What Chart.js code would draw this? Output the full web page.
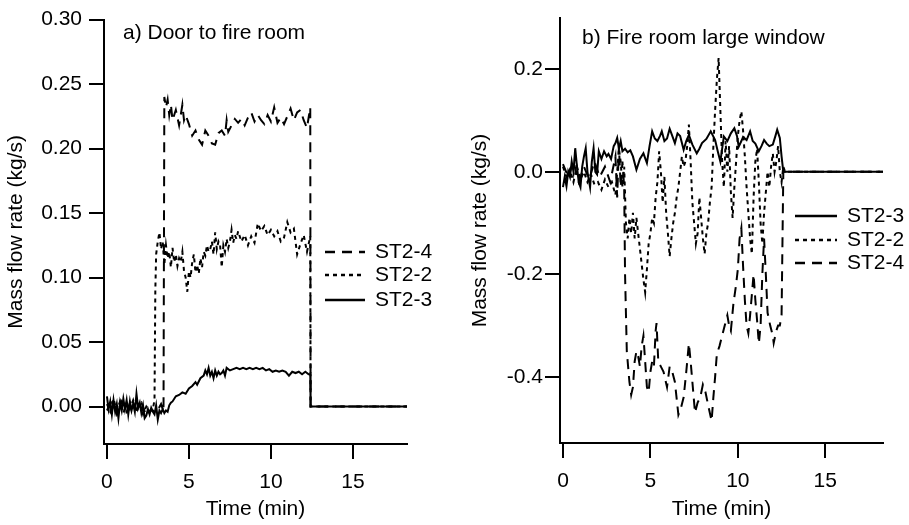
<!DOCTYPE html>
<html>
<head>
<meta charset="utf-8">
<script src="https://cdn.jsdelivr.net/npm/chart.js@4.4.1/dist/chart.umd.min.js"></script>
<style>
  body { margin: 0; background: #fff; width: 909px; height: 525px; position: relative; overflow: hidden; }
  canvas { position: absolute; top: 0; }
  #door-chart { left: 0; }
  #window-chart { left: 450px; }
</style>
</head>
<body>
<canvas id="door-chart" width="450" height="525"></canvas>
<canvas id="window-chart" width="459" height="525"></canvas>
<script>
// ---- data: a) Door to fire room ----
var doorTime3 = [0,0.1,0.2,0.3,0.4,0.5,0.6,0.7,0.8,0.9,
  1.0,1.1,1.2,1.3,1.4,1.5,1.6,1.7,1.8,1.9,
  2.0,2.1,2.2,2.3,2.4,2.5,2.6,2.7,2.8,2.9,
  3.0,3.1,3.2,3.3,3.4,3.5,3.6,3.7,3.8,3.9,
  4.0,4.2,4.4,4.6,4.8,5.0,5.2,5.4,5.5,5.7,5.9,
  6.0,6.1,6.2,6.3,6.4,6.5,6.6,6.7,6.8,6.9,7.0,7.1,7.2,7.3,
  7.5,7.7,7.9,8.1,8.3,8.5,8.7,8.9,9.1,9.3,9.5,9.7,9.9,10.1,10.3,10.5,10.7,10.9,11.1,11.3,11.5,11.7,11.9,12.1,12.3,
  12.4,12.42,18.3];
var doorFlow3 = [0.008,-0.002,0.004,-0.006,0.005,-0.004,0.002,-0.009,0.003,-0.003,
  0.006,-0.002,0.005,-0.006,0.004,-0.003,0.002,-0.004,0.010,-0.001,
  0.003,-0.005,0.001,-0.009,-0.007,-0.002,-0.006,-0.001,-0.004,-0.006,
  0.001,-0.010,-0.003,-0.005,-0.002,-0.005,-0.003,-0.004,0.001,0.003,
  0.004,0.008,0.009,0.011,0.010,0.014,0.016,0.019,0.017,0.022,0.024,
  0.028,0.025,0.030,0.024,0.027,0.022,0.028,0.024,0.027,0.025,0.026,0.028,0.024,0.030,
  0.028,0.029,0.030,0.029,0.030,0.029,0.030,0.029,0.030,0.029,0.030,0.028,0.029,0.027,0.028,0.027,0.028,0.027,0.024,0.027,0.026,0.027,0.025,0.027,0.025,
  0.025,0,0];

var doorTime2 = [0,0.2,0.4,0.6,0.8,1.0,1.2,1.4,1.6,1.8,2.0,2.2,2.4,2.6,2.8,2.9,2.95,
  3.0,3.1,3.2,3.3,3.4,3.5,3.6,3.7,3.8,3.9,
  4.0,4.1,4.2,4.3,4.4,4.5,4.6,4.7,4.8,4.9,
  5.0,5.1,5.2,5.3,5.4,5.5,5.6,5.7,5.8,5.9,
  6.0,6.1,6.2,6.3,6.4,6.5,6.6,6.7,6.8,6.9,
  7.0,7.1,7.2,7.3,7.4,7.5,7.6,7.7,7.8,7.9,
  8.0,8.2,8.4,8.6,8.8,9.0,9.2,9.4,9.6,9.8,10.0,10.2,10.4,10.6,10.8,11.0,11.2,11.4,11.6,11.8,12.0,12.2,12.4,
  12.42,18.3];
var doorFlow2 = [0.002,-0.004,0.006,-0.003,0.004,-0.005,0.003,-0.002,0.005,-0.004,0.002,-0.006,0.000,-0.004,-0.002,0.005,0.090,
  0.118,0.128,0.135,0.122,0.128,0.110,0.125,0.115,0.120,0.108,
  0.123,0.112,0.118,0.109,0.115,0.112,0.120,0.105,0.100,0.089,
  0.105,0.100,0.112,0.118,0.104,0.110,0.103,0.115,0.108,0.120,
  0.117,0.125,0.120,0.122,0.128,0.118,0.135,0.122,0.128,0.125,
  0.108,0.125,0.120,0.130,0.123,0.128,0.137,0.127,0.133,0.130,
  0.136,0.128,0.133,0.125,0.132,0.127,0.142,0.136,0.140,0.133,0.137,0.132,0.136,0.128,0.131,0.143,0.135,0.138,0.118,0.126,0.133,0.120,0.132,
  0,0];

var doorTime4 = [0,0.3,0.6,0.9,1.2,1.5,1.8,2.1,2.4,2.7,3.0,3.3,3.45,
  3.5,3.6,3.7,3.8,3.9,4.0,4.2,4.4,4.6,4.7,4.8,
  5.0,5.2,5.4,5.6,5.8,6.0,6.2,6.4,6.6,6.8,7.0,7.2,7.3,7.4,
  7.6,7.8,8.0,8.2,8.4,8.6,8.8,9.0,9.2,9.4,9.6,9.8,10.0,10.2,10.4,10.6,10.8,11.0,11.2,11.4,11.6,11.8,12.0,12.2,12.4,
  12.42,18.3];
var doorFlow4 = [-0.003,0.005,-0.006,0.004,-0.004,0.006,-0.002,0.003,-0.007,-0.002,-0.005,0.002,-0.004,
  0.240,0.232,0.238,0.226,0.234,0.222,0.230,0.218,0.234,0.222,0.226,
  0.219,0.210,0.214,0.207,0.203,0.214,0.210,0.204,0.203,0.212,0.214,0.210,0.222,0.213,
  0.218,0.223,0.220,0.223,0.218,0.224,0.228,0.221,0.226,0.222,0.219,0.226,0.221,0.232,0.220,0.224,0.219,0.225,0.231,0.222,0.228,0.230,0.222,0.216,0.232,
  0,0];

// ---- data: b) Fire room large window ----
var winTime3 = [0,0.1,0.2,0.3,0.4,0.5,0.6,0.7,0.8,0.9,1.0,1.1,1.2,1.3,1.4,1.5,
  1.55,1.65,1.75,1.85,1.95,2.05,2.2,2.35,2.5,2.6,2.75,2.9,
  3.0,3.1,3.2,3.3,3.4,3.55,3.7,3.85,4.0,4.2,4.4,4.6,4.8,
  4.95,5.1,5.25,5.4,5.55,5.65,5.8,5.95,6.1,6.25,6.4,6.55,6.7,6.9,
  7.05,7.2,7.4,7.65,7.8,7.95,8.2,8.45,8.7,8.85,9.0,
  9.2,9.4,9.6,9.8,9.95,10.05,10.2,10.3,10.5,10.7,10.85,
  11.0,11.2,11.35,11.5,11.65,11.8,12.0,12.15,12.25,12.4,12.5,12.6,18.3];
var winFlow3 = [-0.030,-0.010,-0.028,0.000,-0.010,0.020,0.000,0.046,0.010,-0.020,-0.030,0.010,0.030,0.046,0.000,-0.020,
  -0.030,0.020,0.046,0.000,-0.005,0.040,0.025,0.040,0.030,0.035,0.025,0.050,
  0.056,0.066,0.045,0.060,0.040,0.045,0.038,0.042,0.030,0.004,0.025,0.036,0.017,
  0.050,0.079,0.065,0.060,0.070,0.079,0.060,0.065,0.084,0.070,0.056,0.075,0.070,0.043,
  0.060,0.072,0.053,0.036,0.045,0.056,0.064,0.079,0.062,0.040,0.020,
  0.069,0.060,0.075,0.085,0.070,0.049,0.060,0.068,0.062,0.079,0.060,
  0.055,0.040,0.050,0.062,0.055,0.050,0.053,0.070,0.082,0.066,0.030,0,0];

var winTime2 = [0,0.2,0.4,0.6,0.8,1.0,1.2,1.4,1.6,1.8,2.0,2.2,2.4,2.6,2.8,
  3.0,3.1,3.2,3.3,3.4,3.5,3.6,3.7,3.8,3.9,
  4.0,4.1,4.2,4.3,4.4,4.5,4.6,4.7,4.8,4.9,
  5.0,5.1,5.2,5.3,5.4,5.5,5.6,5.7,5.8,5.9,
  6.0,6.1,6.2,6.3,6.4,6.5,6.6,6.7,6.8,6.9,
  7.0,7.1,7.2,7.3,7.4,7.5,7.6,7.7,7.8,7.9,
  8.0,8.1,8.2,8.3,8.4,8.5,8.6,8.7,8.8,8.9,
  9.0,9.1,9.2,9.3,9.4,9.5,9.6,9.7,9.8,9.9,
  10.0,10.1,10.2,10.3,10.4,10.5,10.6,10.7,10.8,10.9,
  11.0,11.1,11.2,11.3,11.4,11.5,11.6,11.7,11.8,11.9,
  12.0,12.1,12.2,12.3,12.4,12.5,12.6,12.7,18.3];
var winFlow2 = [0.010,-0.010,0.005,-0.020,0.010,-0.015,0.000,-0.020,-0.005,-0.025,-0.020,-0.035,-0.015,-0.030,-0.020,
  -0.045,0.000,0.045,0.020,-0.030,0.010,-0.100,-0.130,-0.090,-0.120,
  -0.080,-0.130,-0.090,-0.120,-0.150,-0.180,-0.210,-0.235,-0.190,-0.140,
  -0.120,-0.090,-0.100,-0.050,-0.020,0.040,0.000,-0.060,-0.010,-0.080,
  -0.120,-0.165,-0.130,-0.100,-0.080,-0.050,-0.030,0.000,0.030,0.010,
  0.020,0.050,0.092,0.020,-0.060,-0.100,-0.140,-0.120,-0.050,-0.090,
  -0.130,-0.160,-0.120,-0.100,-0.060,-0.030,0.050,0.120,0.180,0.222,
  0.120,0.020,-0.030,0.060,0.000,0.050,-0.040,-0.090,-0.030,0.020,
  0.070,0.100,0.118,0.080,0.030,-0.030,-0.080,-0.130,-0.160,-0.050,
  0.020,0.045,-0.020,-0.100,-0.140,-0.080,-0.040,0.000,-0.030,0.010,
  0.036,0.000,0.020,0.050,0.000,-0.020,0.010,0,0];

var winTime4 = [0,0.3,0.6,0.9,1.2,1.5,1.8,2.1,2.4,2.7,3.0,
  3.1,3.2,3.3,3.4,3.5,3.55,3.65,3.8,3.9,4.0,
  4.1,4.2,4.3,4.4,4.5,4.6,4.7,4.8,4.9,5.0,
  5.1,5.2,5.3,5.35,5.45,5.6,5.75,5.95,
  6.1,6.25,6.4,6.6,6.75,6.9,
  7.05,7.2,7.3,7.4,7.55,7.7,7.85,
  8.0,8.15,8.3,8.5,8.6,8.7,8.8,8.95,
  9.1,9.25,9.4,9.5,9.6,9.75,9.9,
  10.0,10.1,10.2,10.3,10.4,10.5,10.6,10.7,10.8,10.9,
  11.0,11.1,11.2,11.3,11.4,11.5,11.6,11.7,11.85,
  12.0,12.05,12.2,12.3,12.4,12.5,12.6,18.3];
var winFlow4 = [0.015,-0.010,0.020,-0.020,0.010,-0.015,0.020,-0.010,0.010,-0.020,0.030,
  -0.050,0.050,-0.030,0.020,-0.030,-0.200,-0.350,-0.410,-0.435,-0.420,
  -0.370,-0.350,-0.360,-0.380,-0.340,-0.320,-0.370,-0.420,-0.430,-0.390,
  -0.370,-0.380,-0.310,-0.295,-0.370,-0.380,-0.390,-0.420,
  -0.380,-0.390,-0.410,-0.474,-0.460,-0.440,
  -0.390,-0.335,-0.370,-0.410,-0.470,-0.450,-0.440,
  -0.415,-0.430,-0.455,-0.486,-0.440,-0.400,-0.355,-0.340,
  -0.320,-0.300,-0.280,-0.300,-0.310,-0.256,-0.220,
  -0.190,-0.130,-0.110,-0.185,-0.250,-0.300,-0.315,-0.280,-0.240,-0.200,
  -0.250,-0.290,-0.335,-0.300,-0.200,-0.130,-0.200,-0.275,-0.300,
  -0.320,-0.334,-0.310,-0.300,-0.300,-0.280,0.000,0];

var timeTicks = [0, 5, 10, 15];
var doorTicks = [0.00, 0.05, 0.10, 0.15, 0.20, 0.25, 0.30];
var windowTicks = [-0.4, -0.2, 0.0, 0.2];

var FONT = { family: '"Liberation Sans", Arial, Helvetica, sans-serif', size: 21 };
var SOLID = [], DOTTED = [4, 4], DASHED = [10, 7];

function points(t, v) {
    if (t.length !== v.length) console.error('length mismatch', t.length, v.length);
    return t.map(function(x, i) { return { x: x, y: v[i] }; });
}

function series(label, t, v, dash) {
    return {
        label: label,
        data: points(t, v),
        borderColor: '#000',
        borderWidth: 2,
        borderDash: dash,
        pointRadius: 0,
        fill: false,
        tension: 0
    };
}

// panel caption + legend drawn inside the plot
function panelText(cfg) {
    return {
        id: 'panelText',
        afterDraw: function(chart) {
            var ctx = chart.ctx;
            ctx.save();
            ctx.font = FONT.size + 'px ' + FONT.family;
            ctx.fillStyle = '#000';
            ctx.textBaseline = 'middle';
            ctx.textAlign = 'left';
            ctx.fillText(cfg.title, cfg.titleX, cfg.titleY);
            cfg.order.forEach(function(idx, i) {
                var ds = chart.data.datasets[idx];
                var y = cfg.legendY[i];
                ctx.beginPath();
                ctx.setLineDash(ds.borderDash);
                ctx.lineWidth = 2.5;
                ctx.strokeStyle = '#000';
                ctx.moveTo(cfg.lineX0, y);
                ctx.lineTo(cfg.lineX1, y);
                ctx.stroke();
                ctx.setLineDash([]);
                ctx.fillText(ds.label, cfg.textX, y);
            });
            ctx.restore();
        }
    };
}

function axisOptions(o) {
    return {
        x: {
            type: 'linear',
            min: o.xMin,
            max: 18.3,
            afterBuildTicks: function(s) { s.ticks = timeTicks.map(function(v) { return { value: v }; }); },
            afterFit: function(s) { s.height = o.xHeight; },
            grid: { drawOnChartArea: false, drawTicks: true, tickLength: 15, color: '#000', lineWidth: 2 },
            border: { display: true, color: '#000', width: 2 },
            ticks: { color: '#000', font: FONT, padding: 11, maxRotation: 0, autoSkip: false },
            title: { display: true, text: 'Time (min)', color: '#000', font: FONT, padding: { top: 0, bottom: 3 } }
        },
        y: {
            type: 'linear',
            min: o.yMin,
            max: o.yMax,
            afterBuildTicks: function(s) { s.ticks = o.yTicks.map(function(v) { return { value: v }; }); },
            afterFit: function(s) { s.width = o.yWidth; },
            grid: { drawOnChartArea: false, drawTicks: true, tickLength: 15, color: '#000', lineWidth: 2 },
            border: { display: true, color: '#000', width: 2 },
            ticks: {
                color: '#000', font: FONT, padding: o.yPad, autoSkip: false,
                callback: function(v) { return Number(v).toFixed(o.decimals); }
            },
            title: { display: true, text: 'Mass flow rate (kg/s)', color: '#000', font: FONT, padding: { top: o.yTitlePad, bottom: 0 } }
        }
    };
}

var ctx = document.getElementById('door-chart').getContext('2d');
var doorChart = new Chart(ctx, {
    type: 'line',
    data: {
        datasets: [
            series('ST2-4', doorTime4, doorFlow4, DASHED),
            series('ST2-2', doorTime2, doorFlow2, DOTTED),
            series('ST2-3', doorTime3, doorFlow3, SOLID)
        ]
    },
    options: {
        responsive: false,
        animation: false,
        devicePixelRatio: 1,
        layout: { padding: { left: 0, right: 43, top: 15, bottom: 0 } },
        plugins: { legend: { display: false }, tooltip: { enabled: false } },
        scales: axisOptions({ xMin: -0.18, xHeight: 81, yMin: -0.029, yMax: 0.30, yTicks: doorTicks, yWidth: 104, yPad: 7, decimals: 2, yTitlePad: 4 })
    },
    plugins: [panelText({ title: 'a) Door to fire room', titleX: 123, titleY: 33, order: [0, 1, 2], legendY: [252, 275, 300], lineX0: 325, lineX1: 365, textX: 375 })]
});

var ctx2 = document.getElementById('window-chart').getContext('2d');
var windowChart = new Chart(ctx2, {
    type: 'line',
    data: {
        datasets: [
            series('ST2-3', winTime3, winFlow3, SOLID),
            series('ST2-2', winTime2, winFlow2, DOTTED),
            series('ST2-4', winTime4, winFlow4, DASHED)
        ]
    },
    options: {
        responsive: false,
        animation: false,
        devicePixelRatio: 1,
        layout: { padding: { left: 0, right: 26, top: 18, bottom: 0 } },
        plugins: { legend: { display: false }, tooltip: { enabled: false } },
        scales: axisOptions({ xMin: -0.17, xHeight: 82, yMin: -0.529, yMax: 0.30, yTicks: windowTicks, yWidth: 110, yPad: 2, decimals: 1, yTitlePad: 18 })
    },
    plugins: [panelText({ title: 'b) Fire room large window', titleX: 132, titleY: 38, order: [0, 1, 2], legendY: [216, 240, 263], lineX0: 345, lineX1: 387, textX: 397 })]
});
</script>
</body>
</html>
